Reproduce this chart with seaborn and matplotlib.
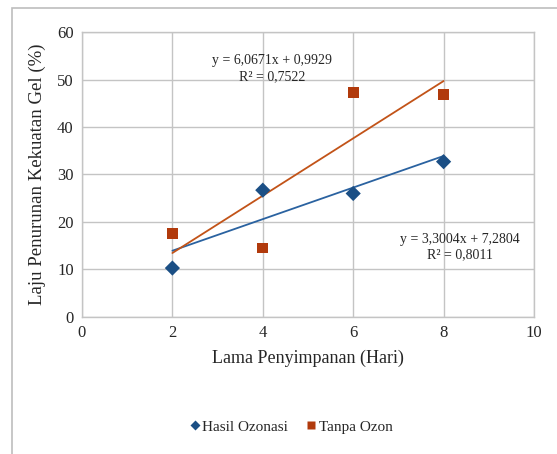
import numpy as np
import pandas as pd
import matplotlib
matplotlib.use("Agg")
import matplotlib.pyplot as plt
import seaborn as sns
from matplotlib.patches import Rectangle

# Data
hari = [2, 4, 6, 8]
hasil_ozonasi = [10.3, 26.7, 26.0, 32.7]
tanpa_ozon = [17.6, 14.5, 47.3, 46.9]

eq_ozonasi = "y = 3,3004x + 7,2804\nR² = 0,8011"
eq_tanpa = "y = 6,0671x + 0,9929\nR² = 0,7522"

x_ticks = [0, 2, 4, 6, 8, 10]
y_ticks = [0, 10, 20, 30, 40, 50, 60]

df = pd.DataFrame({
    "Hari": hari * 2,
    "Laju": hasil_ozonasi + tanpa_ozon,
    "Perlakuan": ["Hasil Ozonasi"] * 4 + ["Tanpa Ozon"] * 4,
})

sns.set_theme(style="white")
plt.rcParams["font.family"] = ["Liberation Serif", "DejaVu Serif"]

blue = "#1b4f85"
red = "#b13a0c"
line_blue = "#2a62a0"
line_red = "#c25318"
grid_c = "#c4c4c4"

fig = plt.figure(figsize=(5.57, 4.54), dpi=100)
ax = fig.add_axes([0.1472, 0.3018, 0.8115, 0.6277])

# outer chart border
fig.patches.append(Rectangle((12 / 557, -0.1), 1.2, 1 - 8 / 454 + 0.1,
                             transform=fig.transFigure, fill=False,
                             edgecolor="#bdbdbd", linewidth=1.2, zorder=0))

# trendlines
sub_o = df[df["Perlakuan"] == "Hasil Ozonasi"]
sub_t = df[df["Perlakuan"] == "Tanpa Ozon"]
sns.regplot(data=sub_o, x="Hari", y="Laju", ci=None, scatter=False, ax=ax,
            line_kws={"color": line_blue, "lw": 1.3, "zorder": 2})
sns.regplot(data=sub_t, x="Hari", y="Laju", ci=None, scatter=False, ax=ax,
            line_kws={"color": line_red, "lw": 1.3, "zorder": 2})

sns.scatterplot(data=df, x="Hari", y="Laju", hue="Perlakuan", style="Perlakuan",
                markers={"Hasil Ozonasi": "D", "Tanpa Ozon": "s"},
                palette={"Hasil Ozonasi": blue, "Tanpa Ozon": red},
                s=60, edgecolor="none", ax=ax, zorder=3)

ax.set_xlim(0, 10)
ax.set_ylim(0, 60)
ax.set_xticks(x_ticks)
ax.set_yticks(y_ticks)
ax.grid(True, color=grid_c, lw=1)
for sp in ax.spines.values():
    sp.set_color(grid_c)
    sp.set_linewidth(1)
ax.tick_params(labelsize=12, length=0, pad=6)

ax.set_xlabel("Lama Penyimpanan (Hari)", fontsize=13, labelpad=6)
ax.set_ylabel("Laju Penurunan Kekuatan Gel (%)", fontsize=13.5, labelpad=8)

ax.text(4.2, 52.3, eq_tanpa, ha="center", va="center", fontsize=10, linespacing=1.25)
ax.text(8.36, 14.7, eq_ozonasi, ha="center", va="center", fontsize=10, linespacing=1.25)

h, l = ax.get_legend_handles_labels()
ax.legend(h, l, loc="center", bbox_to_anchor=(0.46, -0.385), ncol=2,
          frameon=False, fontsize=11, handletextpad=0.0, columnspacing=1.0,
          handlelength=1.0, markerscale=0.7)

fig.savefig("out.png", dpi=100)
